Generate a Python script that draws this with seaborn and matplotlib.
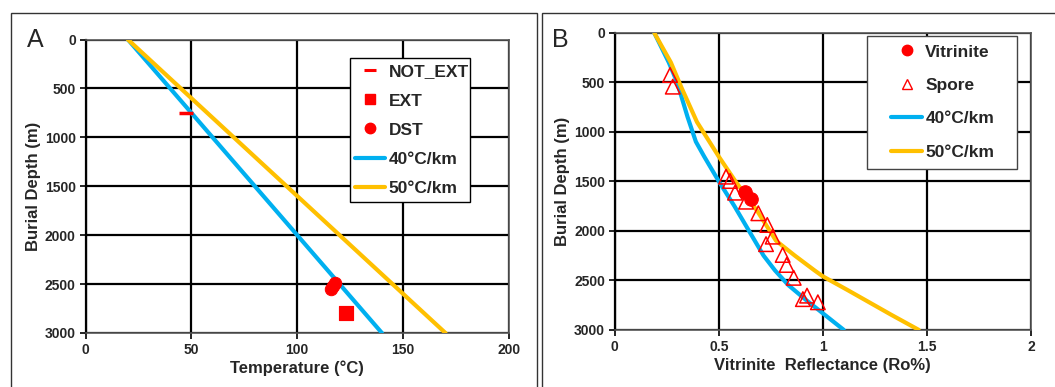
import numpy as np
import pandas as pd
import matplotlib
matplotlib.use("Agg")
import matplotlib.pyplot as plt
from matplotlib.lines import Line2D
from matplotlib.patches import Rectangle
import seaborn as sns

sns.set_style("white")
plt.rcParams['font.family'] = ['Liberation Sans', 'DejaVu Sans']

BLUE = "#00B0F0"
YELLOW = "#FFC000"
RED = "#FF0000"

# ---------------- Panel A data ----------------
gradA_depth = [0, 3000]
grad40_temp = [20, 140]
grad50_temp = [20, 170]
notext_temp = [47.5]
notext_depth = [750]
ext_temp = [123]
ext_depth = [2800]
dst_temp = [118, 117, 116]
dst_depth = [2490, 2520, 2550]

# ---------------- Panel B data ----------------
ro40_depth = [0, 300, 500, 850, 1100, 1250, 1500, 1750, 2000, 2250, 2400, 2550, 2700, 2850, 3000]
ro40 = [0.19, 0.26, 0.30, 0.35, 0.39, 0.43, 0.50, 0.575, 0.645, 0.715, 0.77, 0.835, 0.92, 1.01, 1.10]
ro50_depth = [0, 300, 550, 900, 1250, 1500, 1800, 2050, 2100, 2250, 2400, 2460, 2600, 2850, 3000]
ro50 = [0.19, 0.27, 0.32, 0.395, 0.50, 0.58, 0.685, 0.76, 0.775, 0.865, 0.96, 1.0, 1.12, 1.33, 1.46]
vit_ro = [0.626, 0.655]
vit_depth = [1605, 1680]
spore_ro = [0.266, 0.279, 0.535, 0.554, 0.578, 0.631, 0.69, 0.733, 0.759, 0.727,
            0.807, 0.826, 0.86, 0.924, 0.904, 0.976]
spore_depth = [426, 544, 1453, 1497, 1615, 1706, 1823, 1941, 2059, 2135,
               2244, 2345, 2475, 2655, 2690, 2722]

W, H = 1055, 387
fig = plt.figure(figsize=(W / 100, H / 100), dpi=100)

# outer panel frames
for x0, x1 in [(11, 537), (541.5, 1062)]:
    fig.patches.append(Rectangle((x0 / W, -0.1), (x1 - x0) / W, 1.1 - 13 / H,
                                 transform=fig.transFigure, fill=False,
                                 edgecolor="#333333", linewidth=1.0))

axA = fig.add_axes([85.5 / W, 1 - 333 / H, (509 - 85.5) / W, (333 - 39.5) / H])
axB = fig.add_axes([614.7 / W, 1 - 329.8 / H, (1031 - 614.7) / W, (329.8 - 32.8) / H])

tick_fs = 10
lab_fs = 12
leg_fs = 12.5


def style_axes(ax, xmax, xticks, xticklabels):
    ax.set_ylim(3000, 0)
    ax.set_xlim(0, xmax)
    ax.set_yticks(range(0, 3001, 500))
    ax.set_xticks(xticks)
    ax.set_xticklabels(xticklabels, fontsize=tick_fs, fontweight="bold")
    ax.set_yticklabels([str(v) for v in range(0, 3001, 500)], fontsize=tick_fs, fontweight="bold")
    ax.grid(True, color="black", linewidth=1.6)
    ax.set_axisbelow(True)
    for s in ["top", "right"]:
        ax.spines[s].set_color("#555555")
        ax.spines[s].set_linewidth(1.2)
    ax.spines["left"].set_color("black")
    ax.spines["left"].set_linewidth(1.6)
    ax.spines["bottom"].set_color("#555555")
    ax.spines["bottom"].set_linewidth(1.2)
    ax.tick_params(axis="both", direction="out", length=4, width=1.2, color="black",
                   left=True, bottom=True, pad=3)
    ax.set_ylabel("Burial Depth (m)", fontsize=lab_fs, fontweight="bold", labelpad=3)


def legend_box(ax, x, y, w, h, color):
    ax.add_patch(Rectangle((x, y), w, h, transform=ax.transAxes, facecolor="white",
                           edgecolor=color, linewidth=1.0, zorder=6, clip_on=False))


# ---------------- Panel A ----------------
dfA40 = pd.DataFrame({"T": grad40_temp, "z": gradA_depth})
dfA50 = pd.DataFrame({"T": grad50_temp, "z": gradA_depth})
sns.lineplot(data=dfA40, x="T", y="z", sort=False, color=BLUE, linewidth=3.0, ax=axA, zorder=3)
sns.lineplot(data=dfA50, x="T", y="z", sort=False, color=YELLOW, linewidth=3.0, ax=axA, zorder=3)
sns.scatterplot(x=notext_temp, y=notext_depth, marker="_", s=110, color=RED,
                linewidth=2.5, ax=axA, zorder=4)
sns.scatterplot(x=ext_temp, y=ext_depth, marker="s", s=110, color=RED,
                edgecolor=RED, ax=axA, zorder=4)
sns.scatterplot(x=dst_temp, y=dst_depth, marker="o", s=80, color=RED,
                edgecolor=RED, ax=axA, zorder=4)
style_axes(axA, 200, [0, 50, 100, 150, 200], ["0", "50", "100", "150", "200"])
axA.set_xlabel("Temperature (\u00b0C)", fontsize=lab_fs, fontweight="bold", labelpad=3)

handlesA = [
    Line2D([], [], linestyle="none", marker="_", markersize=9, markeredgewidth=2.2, color=RED),
    Line2D([], [], linestyle="none", marker="s", markersize=7.5, color=RED),
    Line2D([], [], linestyle="none", marker="o", markersize=7.5, color=RED),
    Line2D([], [], color=BLUE, linewidth=3),
    Line2D([], [], color=YELLOW, linewidth=3),
]
legend_box(axA, 0.6246, 0.4463, 0.2834, 0.4906, "black")
legA = axA.legend(handlesA, ["NOT_EXT", "EXT", "DST", "40\u00b0C/km", "50\u00b0C/km"],
                  loc="center left", bbox_to_anchor=(0.6364, 0.6917), frameon=False,
                  prop={"weight": "bold", "size": leg_fs}, handlelength=1.75,
                  handletextpad=0.2, labelspacing=0.8, borderpad=0,
                  borderaxespad=0)
legA.set_zorder(7)
fig.text(27 / W, 1 - 40 / H, "A", fontsize=18, va="center", ha="left")

# ---------------- Panel B ----------------
dfB40 = pd.DataFrame({"Ro": ro40, "z": ro40_depth})
dfB50 = pd.DataFrame({"Ro": ro50, "z": ro50_depth})
sns.lineplot(data=dfB40, x="Ro", y="z", sort=False, color=BLUE, linewidth=3.0, ax=axB, zorder=3)
sns.lineplot(data=dfB50, x="Ro", y="z", sort=False, color=YELLOW, linewidth=3.0, ax=axB, zorder=3)
sns.scatterplot(x=spore_ro, y=spore_depth, marker="^", s=110, facecolor="none",
                edgecolor=RED, linewidth=1.1, ax=axB, zorder=4)
sns.scatterplot(x=vit_ro, y=vit_depth, marker="o", s=95, color=RED,
                edgecolor=RED, ax=axB, zorder=5)
style_axes(axB, 2, [0, 0.5, 1, 1.5, 2], ["0", "0.5", "1", "1.5", "2"])
axB.set_xlabel("Vitrinite  Reflectance (Ro%)", fontsize=lab_fs, fontweight="bold", labelpad=3)

handlesB = [
    Line2D([], [], linestyle="none", marker="o", markersize=7.5, color=RED),
    Line2D([], [], linestyle="none", marker="^", markersize=7.5, markerfacecolor="none",
           markeredgecolor=RED, markeredgewidth=1.0),
    Line2D([], [], color=BLUE, linewidth=3),
    Line2D([], [], color=YELLOW, linewidth=3),
]
legend_box(axB, 0.6049, 0.5414, 0.3615, 0.4478, "#444444")
legB = axB.legend(handlesB, ["Vitrinite", "Spore", "40\u00b0C/km", "50\u00b0C/km"],
                  loc="center left", bbox_to_anchor=(0.6649, 0.767), frameon=False,
                  prop={"weight": "bold", "size": leg_fs}, handlelength=1.75,
                  handletextpad=0.2, labelspacing=1.05, borderpad=0,
                  borderaxespad=0)
legB.set_zorder(7)
fig.text(552 / W, 1 - 40 / H, "B", fontsize=18, va="center", ha="left")

fig.savefig("out.png", dpi=100, facecolor="white")
